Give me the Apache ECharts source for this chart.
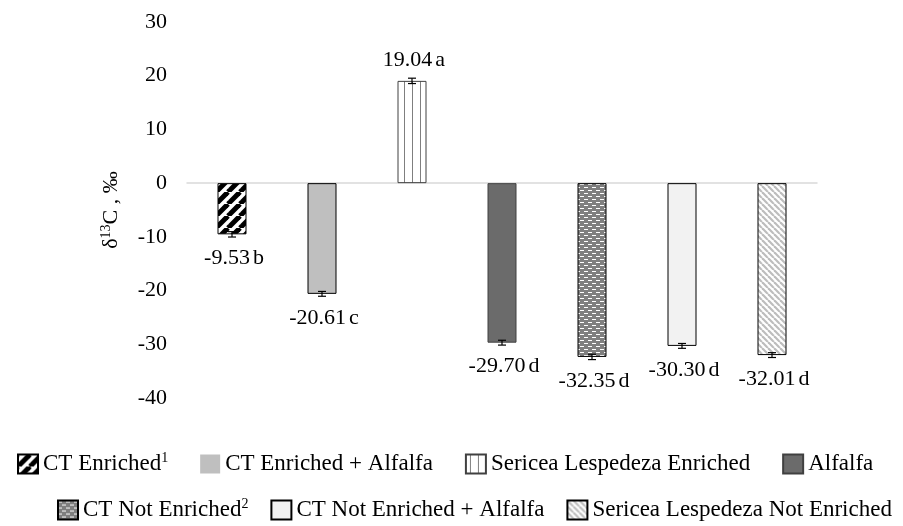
<!DOCTYPE html>
<html>
<head>
<meta charset="utf-8">
<script src="https://cdn.jsdelivr.net/npm/echarts@6/dist/echarts.min.js"></script>
<style>
html,body{margin:0;padding:0;background:#fff;}
#chart{width:903px;height:526px;}
</style>
</head>
<body>
<div id="chart"></div>
<script>
const categories = ['CT Enriched','CT Enriched + Alfalfa','Sericea Lespedeza Enriched','Alfalfa','CT Not Enriched','CT Not Enriched + Alfalfa','Sericea Lespedeza Not Enriched'];
const values = [-9.53, -20.61, 19.04, -29.70, -32.35, -30.30, -32.01];
const errors = [0.5, 0.45, 0.5, 0.45, 0.5, 0.45, 0.45];
const letters = ['b', 'c', 'a', 'd', 'd', 'd', 'd'];
const superscripts = ['1', '', '', '', '2', '', ''];
const yMin = -40, yMax = 30, yInterval = 10;

const FONT = 'Liberation Serif';

function tile(w, h, draw) {
  const c = document.createElement('canvas');
  c.width = w; c.height = h;
  const ctx = c.getContext('2d');
  draw(ctx, w, h);
  return { image: c, repeat: 'repeat' };
}
const patterns = [
  tile(12, 12, (ctx, w, h) => {
    ctx.fillStyle = '#fff'; ctx.fillRect(0, 0, w, h);
    ctx.strokeStyle = '#000'; ctx.lineWidth = 5;
    for (let k = -1; k <= 1; k++) {
      ctx.beginPath(); ctx.moveTo(k * w, h); ctx.lineTo(k * w + w, 0); ctx.stroke();
    }
  }),
  '#bfbfbf',
  tile(8, 4, (ctx, w, h) => {
    ctx.fillStyle = '#fff'; ctx.fillRect(0, 0, w, h);
    ctx.fillStyle = '#7f7f7f'; ctx.fillRect(4, 0, 1, h);
  }),
  '#6b6b6b',
  tile(8, 6, (ctx, w, h) => {
    ctx.fillStyle = '#7f7f7f'; ctx.fillRect(0, 0, w, h);
    ctx.fillStyle = '#fff';
    ctx.fillRect(0, 1, 4, 1); ctx.fillRect(4, 4, 4, 1);
  }),
  '#f2f2f2',
  tile(6, 6, (ctx, w, h) => {
    ctx.fillStyle = '#fff'; ctx.fillRect(0, 0, w, h);
    ctx.strokeStyle = '#bdbdbd'; ctx.lineWidth = 2.2;
    for (let k = -1; k <= 1; k++) {
      ctx.beginPath(); ctx.moveTo(k * w, 0); ctx.lineTo(k * w + w, h); ctx.stroke();
    }
  })
];
const borders = ['#000', '#000', '#404040', '#404040', '#000', '#000', '#000'];

const barSeries = categories.map((name, i) => ({
  type: 'bar',
  name: name,
  data: values.map((v, j) => (j === i ? v : '-')),
  barWidth: 29,
  barGap: '-100%',
  itemStyle: { color: patterns[i], borderColor: borders[i], borderWidth: 1 },
  emphasis: { disabled: true },
  animation: false
}));

const errSeries = {
  type: 'custom',
  name: 'err',
  data: values.map((v, i) => [i, v, errors[i]]),
  encode: { x: 0, y: 1 },
  z: 10,
  animation: false,
  renderItem: function (params, api) {
    const i = api.value(0), v = api.value(1), e = api.value(2);
    const hi = api.coord([i, v + e]);
    const lo = api.coord([i, v - e]);
    const end = api.coord([i, v]);
    const cw = 4;
    const ls = { stroke: '#000', lineWidth: 1.2 };
    const ty = v < 0 ? end[1] + 24 : end[1] - 21;
    return {
      type: 'group',
      children: [
        { type: 'line', shape: { x1: hi[0], y1: hi[1], x2: lo[0], y2: lo[1] }, style: ls },
        { type: 'line', shape: { x1: hi[0] - cw, y1: hi[1], x2: hi[0] + cw, y2: hi[1] }, style: ls },
        { type: 'line', shape: { x1: lo[0] - cw, y1: lo[1], x2: lo[0] + cw, y2: lo[1] }, style: ls },
        {
          type: 'text',
          style: {
            x: end[0] + 2, y: ty,
            text: '{n|' + values[i].toFixed(2) + '}{l|' + letters[i] + '}',
            align: 'center', verticalAlign: 'middle',
            rich: {
              n: { fontFamily: FONT, fontSize: 22, fill: '#000', color: '#000' },
              l: { fontFamily: FONT, fontSize: 22, fill: '#000', color: '#000', padding: [0, 0, 0, 3] }
            },
            fontFamily: FONT, fontSize: 22, fill: '#000'
          }
        }
      ]
    };
  }
};

function legendFormatter(name) {
  const i = categories.indexOf(name);
  return superscripts[i] ? '{m|' + name + '}{s|' + superscripts[i] + '}' : '{m|' + name + '}';
}
const legendText = {
  fontFamily: FONT, fontSize: 23, color: '#000',
  rich: {
    m: { fontFamily: FONT, fontSize: 23, color: '#000', lineHeight: 26 },
    s: { fontFamily: FONT, fontSize: 14, color: '#000', verticalAlign: 'top', lineHeight: 14 }
  }
};
function legendItems(names) {
  return names.map(n => (n === 'CT Enriched + Alfalfa' ? { name: n, itemStyle: { borderWidth: 0 } } : { name: n }));
}

const chart = echarts.init(document.getElementById('chart'), null, { renderer: 'canvas' });
chart.setOption({
  backgroundColor: '#fff',
  animation: false,
  textStyle: { fontFamily: FONT, color: '#000' },
  grid: { left: 187, right: 86, top: 22, bottom: 128 },
  xAxis: {
    type: 'category',
    data: categories,
    axisLine: { show: true, onZero: true, lineStyle: { color: '#d9d9d9', width: 1.5 } },
    axisTick: { show: false },
    axisLabel: { show: false },
    splitLine: { show: false }
  },
  yAxis: {
    type: 'value',
    min: yMin, max: yMax, interval: yInterval,
    axisLine: { show: false },
    axisTick: { show: false },
    splitLine: { show: false },
    axisLabel: { fontFamily: FONT, fontSize: 22, color: '#000', margin: 20 },
    name: '{t|δ}{s|13}{t|C , ‰}',
    nameLocation: 'middle',
    nameRotate: 90,
    nameGap: 64,
    nameTextStyle: {
      fontFamily: FONT, fontSize: 22, color: '#000',
      rich: {
        t: { fontFamily: FONT, fontSize: 22, color: '#000', lineHeight: 24 },
        s: { fontFamily: FONT, fontSize: 14, color: '#000', verticalAlign: 'top', lineHeight: 14 }
      }
    }
  },
  legend: [
    {
      data: legendItems(categories.slice(0, 4)),
      left: 17, top: 451, padding: 0,
      icon: 'rect',
      itemWidth: 20, itemHeight: 19, itemGap: 32,
      formatter: legendFormatter,
      textStyle: legendText,
      selectedMode: false
    },
    {
      data: legendItems(categories.slice(4)),
      left: 57, top: 497, padding: 0,
      icon: 'rect',
      itemWidth: 20, itemHeight: 19, itemGap: 22,
      formatter: legendFormatter,
      textStyle: legendText,
      selectedMode: false
    }
  ],
  series: barSeries.concat([errSeries])
});
</script>
</body>
</html>
